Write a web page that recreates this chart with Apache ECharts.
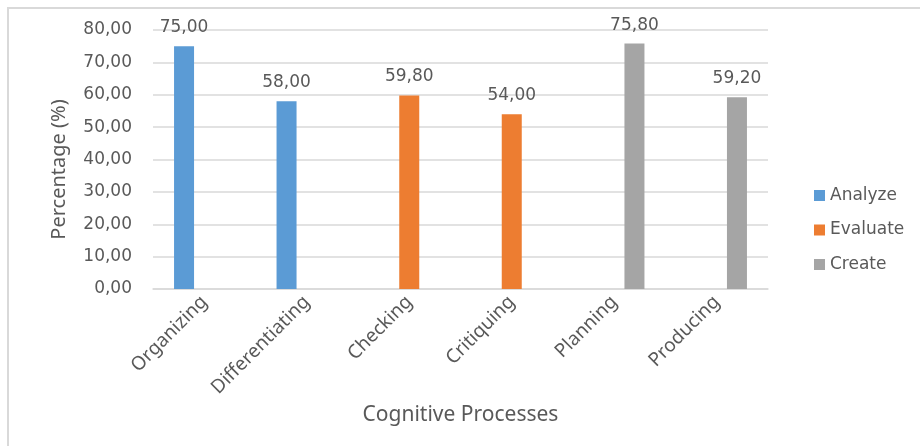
<!DOCTYPE html>
<html>
<head>
<meta charset="utf-8">
<script src="https://cdn.jsdelivr.net/npm/echarts@6/dist/echarts.min.js"></script>
<style>
  html, body { margin: 0; padding: 0; background: #fff; overflow: hidden; }
  #frame { position: absolute; left: 7px; top: 7px; width: 960px; height: 480px;
           border-left: 2px solid #d9d9d9; border-top: 2px solid #d9d9d9; }
  #chart { position: absolute; left: 0; top: 0; width: 920px; height: 446px; }
</style>
</head>
<body>
<div id="frame"></div>
<div id="chart"></div>
<script>
// Cognitive processes and their percentages, grouped by level
const categories = ['Organizing', 'Differentiating', 'Checking', 'Critiquing', 'Planning', 'Producing'];
const analyzeValues  = [75.0, 58.0, '-', '-', '-', '-'];
const evaluateValues = ['-', '-', 59.8, 54.0, '-', '-'];
const createValues   = ['-', '-', '-', '-', 75.8, 59.2];
const seriesNames = ['Analyze', 'Evaluate', 'Create'];
const seriesColors = ['#5b9bd5', '#ed7d31', '#a5a5a5'];

const yMin = 0, yMax = 80, yStep = 10;

const fmt = v => Number(v).toFixed(2).replace('.', ',');
const numFont = 'DejaVu Sans';
const textFont = 'Noto Sans';
const grey = '#595959';

function barSeries(name, values, color) {
  return {
    name: name,
    type: 'bar',
    data: values,
    barWidth: 20,
    barGap: '1%',
    itemStyle: { color: color },
    label: {
      show: true,
      position: 'top',
      distance: 10,
      color: grey,
      fontFamily: numFont,
      fontSize: 17,
      formatter: p => fmt(p.value)
    }
  };
}

const chart = echarts.init(document.getElementById('chart'), null, { renderer: 'canvas' });
chart.setOption({
  animation: false,
  backgroundColor: 'transparent',
  grid: { left: 153, right: 152, top: 30, bottom: 157, containLabel: false },
  legend: {
    orient: 'vertical',
    left: 809,
    top: 182,
    itemWidth: 11,
    itemHeight: 11,
    itemGap: 17.5,
    icon: 'rect',
    data: seriesNames,
    textStyle: { color: grey, fontFamily: numFont, fontSize: 17, lineHeight: 17 }
  },
  xAxis: {
    type: 'category',
    data: categories,
    name: 'Cognitive Processes',
    nameLocation: 'middle',
    nameGap: 112,
    nameTextStyle: { color: grey, fontFamily: textFont, fontSize: 21, verticalAlign: 'top' },
    axisLine: { lineStyle: { color: '#d9d9d9', width: 1.5 } },
    axisTick: { show: false },
    axisLabel: {
      rotate: 45,
      interval: 0,
      margin: 10,
      color: grey,
      fontFamily: textFont,
      fontSize: 19
    }
  },
  yAxis: {
    type: 'value',
    min: yMin,
    max: yMax,
    interval: yStep,
    name: 'Percentage (%)',
    nameLocation: 'middle',
    nameGap: 84,
    nameTextStyle: { color: grey, fontFamily: textFont, fontSize: 20, padding: [0, 20, 0, 0] },
    axisLine: { show: false },
    axisTick: { show: false },
    splitLine: { lineStyle: { color: '#d9d9d9', width: 1.5 } },
    axisLabel: {
      margin: 21,
      color: grey,
      fontFamily: numFont,
      fontSize: 17,
      formatter: v => fmt(v)
    }
  },
  series: [
    barSeries(seriesNames[0], analyzeValues, seriesColors[0]),
    barSeries(seriesNames[1], evaluateValues, seriesColors[1]),
    barSeries(seriesNames[2], createValues, seriesColors[2])
  ]
});
</script>
</body>
</html>
